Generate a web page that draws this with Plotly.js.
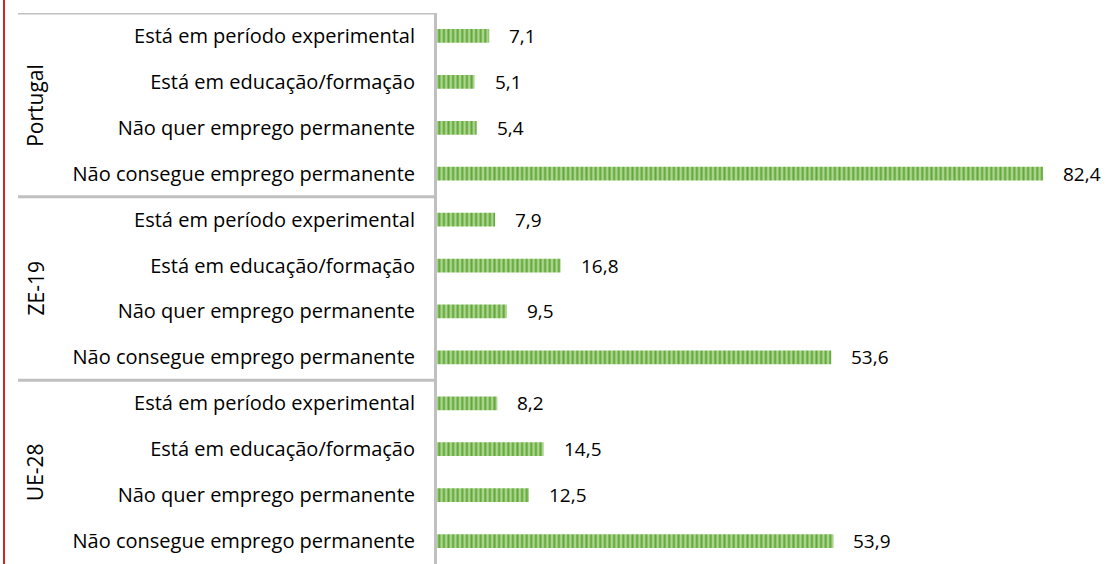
<!DOCTYPE html>
<html><head><meta charset="utf-8">
<script src="https://cdn.plot.ly/plotly-3.0.1.min.js"></script>
<style>html,body{margin:0;padding:0;background:#fff;}#chart{width:1106px;height:564px;}</style>
</head><body><div id="chart"></div>
<script>
const groups = ['Portugal', 'ZE-19', 'UE-28'];
const categories = ['Está em período experimental', 'Está em educação/formação', 'Não quer emprego permanente', 'Não consegue emprego permanente'];
const portugal = [7.1, 5.1, 5.4, 82.4];
const ze19 = [7.9, 16.8, 9.5, 53.6];
const ue28 = [8.2, 14.5, 12.5, 53.9];

const seriesByGroup = [portugal, ze19, ue28];
const nCat = categories.length;
const ypos = [], xval = [], tick = [];
seriesByGroup.forEach((vals, g) => vals.forEach((v, c) => {
  ypos.push(g * nCat + c); xval.push(v); tick.push(categories[c]);
}));

const W = 1106, H = 564;
const mL = 437, mR = 7, mT = 13, mB = 0;
const pw = W - mL - mR, ph = H - mT - mB;
const FONT = 'Open Sans, Noto Sans, sans-serif';
const FS = 20;

const trace = {
  type: 'bar', orientation: 'h', x: xval, y: ypos, width: 0.3,
  marker: {
    color: '#a9d18e',
    line: {width: 0},
    pattern: {shape: '|', fgcolor: '#62a83a', bgcolor: '#acd58f', size: 4.6, solidity: 0.45}
  },
  hoverinfo: 'none'
};

const annotations = [];
xval.forEach((v, i) => annotations.push({
  x: v, y: ypos[i], xref: 'x', yref: 'y', text: v.toFixed(1).replace('.', ','),
  showarrow: false, xanchor: 'left', xshift: 18, font: {family: FONT, size: FS - 1, color: '#000'}
}));
groups.forEach((gname, g) => annotations.push({
  x: (35 - mL) / pw, xref: 'paper', y: g * nCat + (nCat - 1) / 2, yref: 'y',
  text: gname, textangle: -90, showarrow: false, xanchor: 'center', yanchor: 'middle',
  font: {family: FONT, size: FS + 1, color: '#000'}
}));

const shapes = [];
groups.forEach((gname, g) => shapes.push({
  type: 'line', xref: 'paper', yref: 'y', x0: (18 - mL) / pw, x1: -1 / pw,
  y0: g * nCat - 0.5, y1: g * nCat - 0.5, line: {color: '#c0c0c0', width: 3}
}));
shapes.push({
  type: 'line', xref: 'paper', yref: 'paper', x0: (4 - mL) / pw, x1: (4 - mL) / pw,
  y0: -0.02, y1: 1 + mT / ph + 0.02, line: {color: '#d42424', width: 2}
});

const layout = {
  width: W, height: H, margin: {l: mL, r: mR, t: mT, b: mB, pad: 0},
  paper_bgcolor: '#fff', plot_bgcolor: '#fff', showlegend: false,
  separators: ',.',
  font: {family: FONT, size: FS, color: '#000'},
  xaxis: {range: [0, 90], visible: false, fixedrange: true},
  yaxis: {
    range: [ypos.length - 0.5, -0.5], tickmode: 'array', tickvals: ypos, ticktext: tick,
    showline: true, linecolor: '#c0c0c0', linewidth: 3, ticks: 'outside', ticklen: 15,
    tickcolor: 'rgba(0,0,0,0)', showgrid: false, zeroline: false,
    tickfont: {family: FONT, size: FS, color: '#000'}, fixedrange: true
  },
  annotations: annotations, shapes: shapes
};

Plotly.newPlot('chart', [trace], layout, {displayModeBar: false, staticPlot: true});
</script>
</body></html>
